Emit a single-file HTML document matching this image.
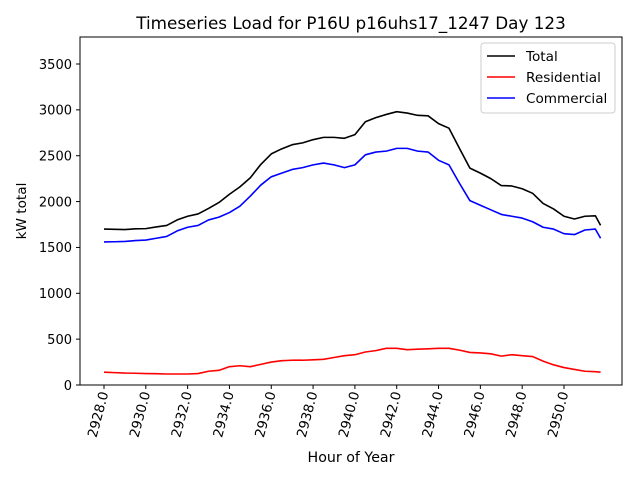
<!DOCTYPE html>
<html><head><meta charset="utf-8"><style>body{margin:0;background:#fff}svg text{font-family:"DejaVu Sans","Liberation Sans",sans-serif}</style></head>
<body>
<svg id="c" width="640" height="480" viewBox="0 0 640 480">
<rect width="640" height="480" fill="#fff"/>
<text x="351" y="29" font-size="16.8" text-anchor="middle">Timeseries Load for P16U p16uhs17_1247  Day 123</text>
<g id="plot"></g>
<rect x="80" y="37" width="542" height="348" fill="none" stroke="#000" stroke-width="1"/>
<text x="351" y="462" font-size="14.2" text-anchor="middle">Hour of Year</text>
<text transform="translate(26,211) rotate(-90)" font-size="13.6" text-anchor="middle">kW total</text>
<g>
<rect x="481" y="43" width="134" height="70" rx="3" fill="#fff" fill-opacity="0.8" stroke="#ccc"/>
<line x1="487" y1="56" x2="515" y2="56" stroke="#000" stroke-width="1.6"/>
<text x="526" y="61" font-size="13.6">Total</text>
<line x1="487" y1="77" x2="515" y2="77" stroke="#f00" stroke-width="1.6"/>
<text x="526" y="82" font-size="13.6">Residential</text>
<line x1="487" y1="98" x2="515" y2="98" stroke="#00f" stroke-width="1.6"/>
<text x="526" y="103" font-size="13.6">Commercial</text>
</g>
</svg>
<script>
const hours=[2928,2928.5,2929,2929.5,2930,2930.5,2931,2931.5,2932,2932.5,2933,2933.5,2934,2934.5,2935,2935.5,2936,2936.5,2937,2937.5,2938,2938.5,2939,2939.5,2940,2940.5,2941,2941.5,2942,2942.5,2943,2943.5,2944,2944.5,2945,2945.5,2946,2946.5,2947,2947.5,2948,2948.5,2949,2949.5,2950,2950.5,2951,2951.5,2951.75];
const commercial=[1560,1562,1565,1575,1580,1600,1620,1680,1720,1740,1800,1830,1880,1950,2060,2180,2270,2310,2350,2370,2400,2420,2400,2370,2400,2510,2540,2550,2580,2580,2550,2540,2450,2400,2200,2010,1960,1910,1860,1840,1820,1780,1720,1700,1650,1640,1690,1700,1600];
const residential=[140,135,130,128,125,123,120,120,120,125,150,160,200,210,200,225,250,265,270,270,275,280,300,320,330,360,375,400,400,385,390,395,400,400,380,355,350,340,315,330,320,310,260,220,190,170,150,145,140];
const total=[1700,1697,1695,1703,1705,1723,1740,1800,1840,1865,1925,1990,2080,2160,2260,2405,2520,2575,2620,2640,2675,2700,2700,2690,2730,2870,2915,2950,2980,2965,2940,2935,2850,2800,2580,2365,2310,2250,2175,2170,2140,2090,1980,1920,1840,1810,1840,1845,1740];
const xTicks=[2928,2930,2932,2934,2936,2938,2940,2942,2944,2946,2948,2950];
const yTicks=[0,500,1000,1500,2000,2500,3000,3500];
const X=h=>104+(h-2928)*20.909, Y=v=>385-v*0.091714;
const NS='http://www.w3.org/2000/svg', g=document.getElementById('plot');
function mk(t,a){const e=document.createElementNS(NS,t);for(const k in a)e.setAttribute(k,a[k]);g.appendChild(e);return e;}
xTicks.forEach(t=>{const x=X(t);
 const l=mk('line',{x1:x,y1:385,x2:x,y2:389,stroke:'#000'});
 
 
 const tx=mk('text',{x:0,y:0,'font-size':13.4,'text-anchor':'end',transform:`translate(${x+4.5},${393}) rotate(-75)`});
 tx.textContent=t.toFixed(1);
 
 });
yTicks.forEach(t=>{const y=Y(t);
 const l=mk('line',{x1:76,y1:y,x2:80,y2:y,stroke:'#000'});
 
 
 const tx=mk('text',{x:72,y:y+4.8,'font-size':13,'text-anchor':'end'});
 tx.textContent=t;
 
 });
function line(vals,col,name){const p=mk('polyline',{points:vals.map((v,i)=>X(hours[i])+','+Y(v)).join(' '),fill:'none',stroke:col,'stroke-width':1.6,'stroke-linejoin':'round'});
 
 }
line(total,'#000','total-line');
line(residential,'#f00','residential-line');
line(commercial,'#00f','commercial-line');
</script>
</body></html>
